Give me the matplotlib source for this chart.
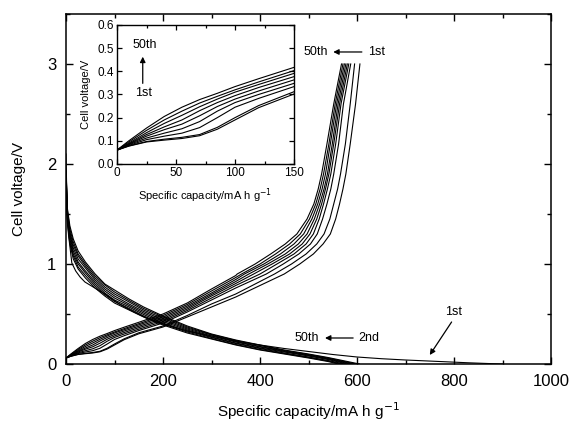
import matplotlib
matplotlib.use("Agg")
import matplotlib.pyplot as plt
from matplotlib.ticker import MultipleLocator

plt.rcParams['font.family'] = ['Liberation Sans', 'DejaVu Sans']

# charge curves, low part on a common capacity grid (mA h/g)
charge_x = [0, 10, 25, 40, 55, 70, 85, 100, 120, 150, 200, 250, 300, 350]
charge_v = [
    [0.06, 0.077, 0.095, 0.103, 0.11, 0.122, 0.15, 0.19, 0.243, 0.302, 0.37, 0.47, 0.57, 0.67],     # 1st
    [0.06, 0.078, 0.097, 0.107, 0.115, 0.127, 0.158, 0.20, 0.252, 0.312, 0.38, 0.485, 0.60, 0.70],  # 2nd
    [0.06, 0.08, 0.105, 0.12, 0.133, 0.157, 0.20, 0.245, 0.283, 0.334, 0.41, 0.52, 0.64, 0.76],
    [0.06, 0.083, 0.112, 0.133, 0.152, 0.183, 0.228, 0.265, 0.30, 0.348, 0.425, 0.535, 0.66, 0.785],
    [0.06, 0.085, 0.12, 0.148, 0.172, 0.208, 0.248, 0.28, 0.315, 0.363, 0.44, 0.55, 0.68, 0.805],
    [0.06, 0.087, 0.127, 0.16, 0.19, 0.23, 0.265, 0.295, 0.33, 0.377, 0.455, 0.565, 0.695, 0.825],
    [0.06, 0.09, 0.135, 0.175, 0.21, 0.247, 0.28, 0.31, 0.343, 0.391, 0.47, 0.58, 0.71, 0.845],
    [0.06, 0.095, 0.145, 0.19, 0.228, 0.263, 0.292, 0.32, 0.354, 0.403, 0.485, 0.595, 0.73, 0.865],
    [0.06, 0.10, 0.155, 0.205, 0.245, 0.278, 0.305, 0.334, 0.368, 0.417, 0.50, 0.61, 0.75, 0.885],  # 50th
]
# upper part: capacity reached at each voltage level
charge_top_v = [0.9, 1.0, 1.1, 1.2, 1.3, 1.45, 1.6, 1.75, 1.9, 2.2, 2.6, 3.0]
charge_top_x = [
    [450, 482, 510, 530, 545, 556, 564, 571, 577, 586, 597, 606],
    [430, 465, 495, 517, 532, 544, 552, 560, 566, 576, 586, 595],
    [413, 448, 480, 504, 518, 529, 538, 546, 552, 562, 572, 587],
    [400, 435, 470, 495, 510, 522, 531, 539, 546, 556, 567, 583],
    [387, 425, 461, 487, 503, 517, 527, 535, 542, 552, 564, 580],
    [377, 416, 452, 479, 497, 512, 523, 532, 539, 549, 561, 577],
    [368, 408, 442, 470, 490, 507, 519, 528, 535, 545, 558, 574],
    [362, 400, 432, 461, 483, 502, 515, 524, 531, 542, 555, 571],
    [353, 390, 422, 452, 476, 497, 511, 520, 527, 538, 552, 568],
]

# discharge curves 2nd..50th on a common capacity grid, plus end capacity
dis_x = [0, 3, 8, 15, 25, 40, 60, 80, 100, 130, 160, 200, 250, 300, 350, 400, 450, 500, 540]
dis_v = [
    [1.95, 1.55, 1.38, 1.25, 1.13, 1.02, 0.90, 0.80, 0.74, 0.65, 0.57, 0.48, 0.38, 0.30, 0.24, 0.19, 0.14, 0.10, 0.065],
    [1.93, 1.53, 1.35, 1.22, 1.10, 1.00, 0.88, 0.79, 0.72, 0.635, 0.555, 0.47, 0.37, 0.295, 0.235, 0.185, 0.135, 0.095, 0.06],
    [1.91, 1.51, 1.32, 1.19, 1.08, 0.98, 0.86, 0.77, 0.70, 0.62, 0.54, 0.455, 0.36, 0.29, 0.225, 0.175, 0.13, 0.09, 0.055],
    [1.89, 1.49, 1.30, 1.16, 1.05, 0.96, 0.84, 0.75, 0.68, 0.60, 0.525, 0.44, 0.35, 0.28, 0.22, 0.17, 0.125, 0.085, 0.05],
    [1.87, 1.47, 1.28, 1.13, 1.02, 0.93, 0.82, 0.73, 0.66, 0.585, 0.51, 0.425, 0.34, 0.27, 0.21, 0.16, 0.12, 0.08, 0.045],
    [1.85, 1.45, 1.25, 1.10, 1.00, 0.91, 0.80, 0.71, 0.64, 0.57, 0.495, 0.41, 0.33, 0.265, 0.205, 0.155, 0.11, 0.07, 0.035],
    [1.82, 1.42, 1.22, 1.08, 0.97, 0.885, 0.78, 0.695, 0.625, 0.555, 0.48, 0.40, 0.32, 0.255, 0.195, 0.145, 0.105, 0.065, 0.03],
    [1.80, 1.40, 1.20, 1.05, 0.95, 0.86, 0.76, 0.68, 0.61, 0.54, 0.47, 0.39, 0.31, 0.25, 0.19, 0.14, 0.10, 0.06, 0.025],
]
dis_end = [605, 598, 592, 586, 580, 574, 568, 562]

# first discharge, with its long tail
first_x = [0, 2, 5, 12, 20, 29, 39, 56, 80, 110, 140, 170, 200, 250, 300, 360, 400, 450, 500,
           550, 600, 650, 700, 770, 830, 880, 900]
first_v = [2.1, 1.6, 1.3, 1.01, 0.93, 0.87, 0.82, 0.77, 0.70, 0.60, 0.52, 0.45, 0.40, 0.33, 0.28,
           0.22, 0.19, 0.155, 0.125, 0.095, 0.07, 0.053, 0.04, 0.025, 0.012, 0.003, 0.0]


def draw_charge(ax, lw):
    for v, tx in zip(charge_v, charge_top_x):
        ax.plot(charge_x + tx, v + charge_top_v, color='k', lw=lw)


fig = plt.figure(figsize=(5.7, 4.21), dpi=100)
ax = fig.add_axes([0.1158, 0.1354, 0.8509, 0.8314])
draw_charge(ax, 0.8)
for v, end in zip(dis_v, dis_end):
    ax.plot(dis_x + [end], v + [0.0], color='k', lw=0.8)
ax.plot(first_x, first_v, color='k', lw=0.8)
ax.set_xlim(0, 1000)
ax.set_ylim(0, 3.5)
ax.xaxis.set_major_locator(MultipleLocator(200))
ax.xaxis.set_minor_locator(MultipleLocator(100))
ax.yaxis.set_major_locator(MultipleLocator(1))
ax.yaxis.set_minor_locator(MultipleLocator(0.5))
ax.tick_params(which='both', direction='in', top=True, right=True, labelsize=12, pad=7)
ax.tick_params(which='major', length=5, width=1)
ax.tick_params(which='minor', length=3, width=1)
for s in ax.spines.values():
    s.set_linewidth(1.1)
ax.set_xlabel('Specific capacity/mA h g$^{-1}$', fontsize=11, labelpad=8)
ax.set_ylabel('Cell voltage/V', fontsize=11, labelpad=15)

arrow = dict(arrowstyle='-|>', color='k', lw=0.9, mutation_scale=8, shrinkA=0, shrinkB=0)
ax.text(515, 3.12, '50th', fontsize=9, ha='center', va='center')
ax.annotate('', xy=(551, 3.12), xytext=(610, 3.12), arrowprops=arrow)
ax.text(622, 3.12, '1st', fontsize=9, ha='left', va='center')
ax.text(497, 0.26, '50th', fontsize=9, ha='center', va='center')
ax.annotate('', xy=(534, 0.26), xytext=(592, 0.26), arrowprops=arrow)
ax.text(602, 0.26, '2nd', fontsize=9, ha='left', va='center')
ax.text(800, 0.52, '1st', fontsize=9, ha='center', va='center')
ax.annotate('', xy=(750, 0.09), xytext=(795, 0.42), arrowprops=arrow)

# inset: start of the charge curves
ins = fig.add_axes([0.2053, 0.6105, 0.3105, 0.3302])
draw_charge(ins, 0.8)
ins.set_xlim(0, 150)
ins.set_ylim(0, 0.6)
ins.xaxis.set_major_locator(MultipleLocator(50))
ins.xaxis.set_minor_locator(MultipleLocator(25))
ins.yaxis.set_major_locator(MultipleLocator(0.1))
ins.tick_params(which='both', direction='in', top=True, right=True, labelsize=8.5, pad=2.5)
ins.tick_params(which='major', length=3.5, width=0.9)
ins.tick_params(which='minor', length=2, width=0.9)
for s in ins.spines.values():
    s.set_linewidth(1.0)
ins.set_xlabel('Specific capacity/mA h g$^{-1}$', fontsize=8, labelpad=5)
ins.set_ylabel('Cell voltage/V', fontsize=8, labelpad=4)
ins.text(23.7, 0.514, '50th', fontsize=9, ha='center', va='center')
ins.annotate('', xy=(21.8, 0.463), xytext=(21.8, 0.348), arrowprops=arrow)
ins.text(22.3, 0.305, '1st', fontsize=9, ha='center', va='center')

fig.savefig('out.png', dpi=100)
